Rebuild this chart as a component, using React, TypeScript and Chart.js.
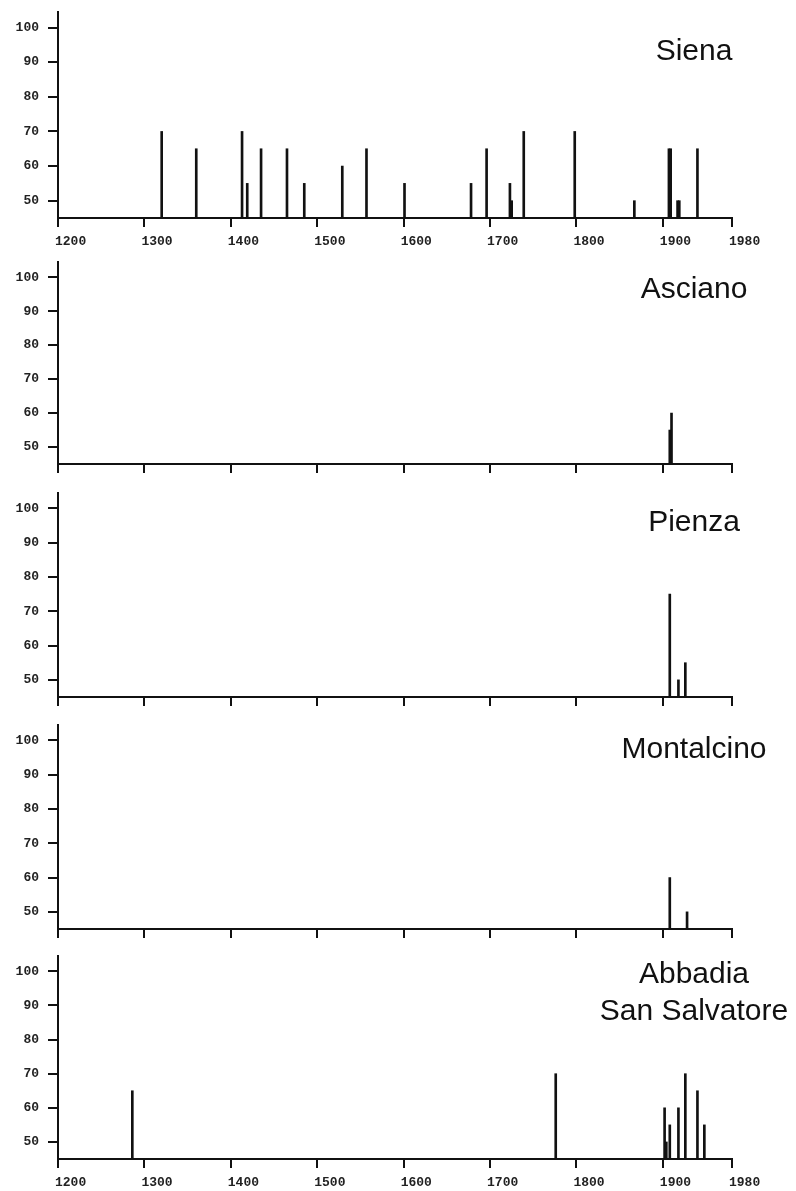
import React, { useEffect, useRef } from "react";
import { Chart, registerables } from "chart.js";

Chart.register(...registerables);

// Axis ticks
const xTickValues = [1200, 1300, 1400, 1500, 1600, 1700, 1800, 1900, 1980];
const yTickValues = [50, 60, 70, 80, 90, 100];
const xMin = 1200;
const xMax = 1980;
const yMin = 45;
const yMax = 104.5;

// Siena
const sienaYears = [1320, 1360, 1413, 1419, 1435, 1465, 1485, 1529, 1557, 1601, 1678, 1696, 1723, 1725, 1739, 1798, 1867, 1907, 1909, 1917, 1919, 1940];
const sienaValues = [70, 65, 70, 55, 65, 65, 55, 60, 65, 55, 55, 65, 55, 50, 70, 70, 50, 65, 65, 50, 50, 65];

// Asciano
const ascianoYears = [1908, 1910];
const ascianoValues = [55, 60];

// Pienza
const pienzaYears = [1908, 1918, 1926];
const pienzaValues = [75, 50, 55];

// Montalcino
const montalcinoYears = [1908, 1928];
const montalcinoValues = [60, 50];

// Abbadia San Salvatore
const abbadiaYears = [1286, 1776, 1902, 1904, 1908, 1918, 1926, 1940, 1948];
const abbadiaValues = [65, 70, 60, 50, 55, 60, 70, 65, 55];

type Panel = {
  title: string[];
  titleBaselines: number[];
  years: number[];
  values: number[];
  axisTop: number;
  axisBottom: number;
  labels: boolean;
};

const panels: Panel[] = [
  { title: ["Siena"], titleBaselines: [60], years: sienaYears, values: sienaValues, axisTop: 12, axisBottom: 218, labels: true },
  { title: ["Asciano"], titleBaselines: [298], years: ascianoYears, values: ascianoValues, axisTop: 262, axisBottom: 464, labels: false },
  { title: ["Pienza"], titleBaselines: [531], years: pienzaYears, values: pienzaValues, axisTop: 493, axisBottom: 697, labels: false },
  { title: ["Montalcino"], titleBaselines: [758], years: montalcinoYears, values: montalcinoValues, axisTop: 725, axisBottom: 929, labels: false },
  { title: ["Abbadia", "San Salvatore"], titleBaselines: [983, 1020], years: abbadiaYears, values: abbadiaValues, axisTop: 956, axisBottom: 1159, labels: true },
];

const TOP_PAD = 8;
const LEFT = 58;
const RIGHT_PAD = 796 - 732;
const tickFont = { family: "'Liberation Mono', 'DejaVu Sans Mono', monospace", size: 13, weight: "bold" as const };

function PanelChart({ panel }: { panel: Panel }) {
  const ref = useRef<HTMLCanvasElement | null>(null);
  const bottomSpace = panel.labels ? 32 : 14;
  const canvasTop = panel.axisTop - TOP_PAD;
  const height = panel.axisBottom - panel.axisTop + TOP_PAD + bottomSpace;

  useEffect(() => {
    if (!ref.current) return;
    const chart = new Chart(ref.current, {
      type: "bar",
      data: {
        datasets: [
          {
            data: panel.years.map((x, i) => ({ x, y: panel.values[i] })),
            backgroundColor: "#111",
            borderWidth: 0,
            barThickness: 2,
          } as any,
        ],
      },
      options: {
        animation: false,
        responsive: false,
        maintainAspectRatio: false,
        layout: { padding: { top: TOP_PAD, left: 0, right: RIGHT_PAD, bottom: 0 } },
        plugins: { legend: { display: false }, tooltip: { enabled: false }, title: { display: false } },
        scales: {
          x: {
            type: "linear",
            min: xMin,
            max: xMax,
            offset: false,
            afterBuildTicks: (s: any) => {
              s.ticks = xTickValues.map((v) => ({ value: v }));
            },
            afterFit: (s: any) => {
              s.height = bottomSpace;
              s.paddingLeft = 0;
              s.paddingRight = 0;
              s.paddingTop = 0;
              s.paddingBottom = 0;
            },
            grid: { offset: false, drawOnChartArea: false, drawTicks: true, tickLength: 9, lineWidth: 2, color: "#111" },
            border: { display: true, color: "#111", width: 2 },
            ticks: {
              display: panel.labels,
              align: "start",
              labelOffset: -3,
              padding: 7,
              autoSkip: false,
              maxRotation: 0,
              font: tickFont,
              color: "#222",
              callback: (v: any) => String(v),
            },
          },
          y: {
            type: "linear",
            min: yMin,
            max: yMax,
            beginAtZero: false,
            afterBuildTicks: (s: any) => {
              s.ticks = yTickValues.map((v) => ({ value: v }));
            },
            afterFit: (s: any) => {
              s.width = LEFT;
              s.paddingTop = 0;
              s.paddingBottom = 0;
              s.paddingLeft = 0;
              s.paddingRight = 0;
            },
            grid: { drawOnChartArea: false, drawTicks: true, tickLength: 10, lineWidth: 2, color: "#111" },
            border: { display: true, color: "#111", width: 2 },
            ticks: {
              padding: 9,
              font: tickFont,
              color: "#222",
              callback: (v: any) => String(v),
            },
          },
        } as any,
      },
    });
    return () => chart.destroy();
  }, [panel, bottomSpace]);

  return (
    <>
      <canvas
        ref={ref}
        width={796}
        height={height}
        style={{ position: "absolute", left: 0, top: canvasTop, width: 796, height, display: "block" }}
      />
      {panel.title.map((t, i) => (
        <div
          key={t}
          style={{
            position: "absolute",
            left: 694,
            top: panel.titleBaselines[i] - 25.4,
            transform: "translateX(-50%)",
            fontFamily: "'Liberation Sans', Arial, sans-serif",
            fontSize: 30,
            lineHeight: "30px",
            whiteSpace: "nowrap",
            color: "#111",
          }}
        >
          {t}
        </div>
      ))}
    </>
  );
}

export default function App() {
  return (
    <div style={{ position: "absolute", left: 0, top: 0, width: 796, height: 1191, background: "#fff", overflow: "hidden" }}>
      {panels.map((p) => (
        <PanelChart key={p.title.join(" ")} panel={p} />
      ))}
    </div>
  );
}
